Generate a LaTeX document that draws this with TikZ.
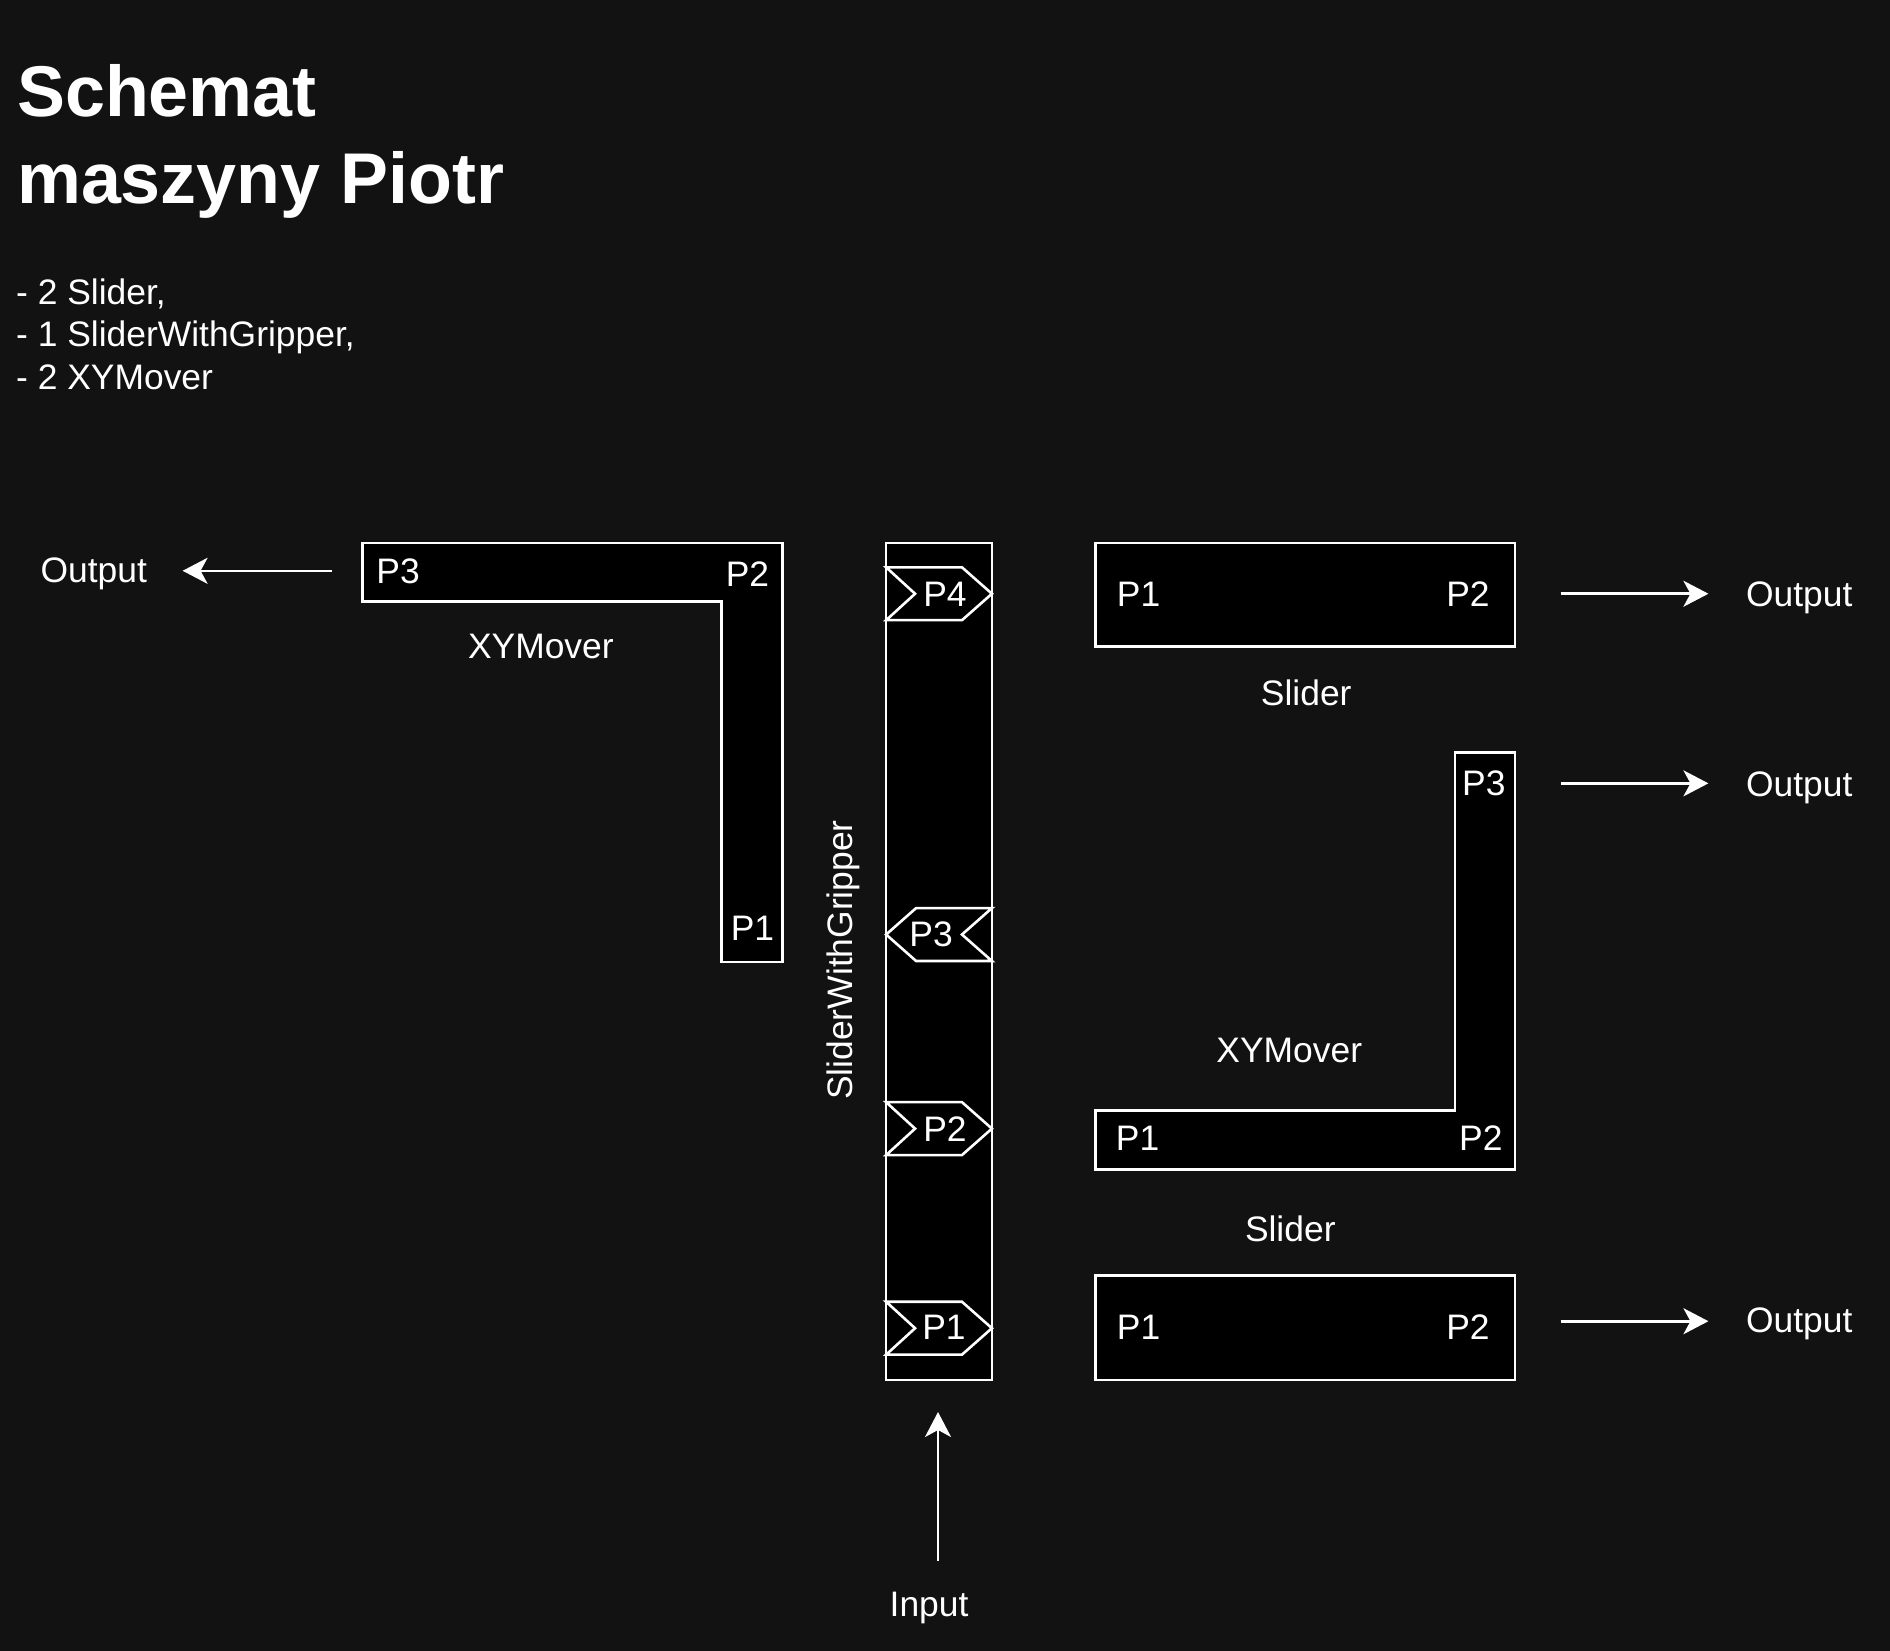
\documentclass[tikz,border=0pt]{standalone}
\usepackage{fontspec}
\setmainfont{Liberation Sans}
\usetikzlibrary{arrows.meta}
\definecolor{bg}{RGB}{18,18,18}
\tikzset{
  x=1pt,y=-1pt,
  wline/.style={draw=white,line width=2.6pt,fill=black,line join=miter},
  lbl/.style={text=white,inner sep=0pt,font=\fontsize{35.5pt}{42pt}\selectfont,text height=25.5pt,text depth=0pt},
  boxnode/.style={wline,rectangle,inner sep=0pt,outer sep=0pt,anchor=north west},
  arr/.style={draw=white,line width=2.6pt,-{Stealth[length=25pt,width=26pt,inset=7pt]}},
}
\begin{document}
\begin{tikzpicture}
\fill[bg] (-2,-2) rectangle (1892,1652);
\useasboundingbox (0,0) rectangle (1890,1650);

% title and list
\node[text=white,inner sep=0pt,anchor=base west,font=\fontsize{72pt}{86pt}\selectfont\bfseries] (t1) at (15,115) {Schemat};
\node[text=white,inner sep=0pt,anchor=base west,font=\fontsize{72pt}{86pt}\selectfont\bfseries] (t2) at (15,202) {maszyny Piotr};
\node[text=white,inner sep=0pt,anchor=base west,font=\fontsize{35.5pt}{42pt}\selectfont] (l1) at (14,303) {- 2 Slider,};
\node[text=white,inner sep=0pt,anchor=base west,font=\fontsize{35.5pt}{42pt}\selectfont] (l2) at (14,345) {- 1 SliderWithGripper,};
\node[text=white,inner sep=0pt,anchor=base west,font=\fontsize{35.5pt}{42pt}\selectfont] (l3) at (14,388) {- 2 XYMover};

% left XYMover (L shape)
\draw[wline] (361,542) -- (782,542) -- (782,962) -- (721,962) -- (721,601) -- (361,601) -- cycle;
\node[lbl] (xl3) at (397,570) {P3};
\node[lbl] (xl2) at (747,573) {P2};
\node[lbl] (xl1) at (752,928) {P1};
\node[lbl] (xlname) at (540,645) {XYMover};

% SliderWithGripper bar
\node[boxnode,minimum width=106pt,minimum height=839pt] (swg) at (886,542) {};
\node[lbl,rotate=90] (swgname) at (840,960) {SliderWithGripper};

% tags
\draw[wline] (886,566.5) -- (962,566.5) -- (992,593) -- (962,619.5) -- (886,619.5) -- (915,593) -- cycle;
\node[lbl] (g4) at (945,593) {P4};
\draw[wline] (886,934.5) -- (916,908) -- (992,908) -- (962,934.5) -- (992,961) -- (916,961) -- cycle;
\node[lbl] (g3) at (931,934) {P3};
\draw[wline] (886,1102.5) -- (962,1102.5) -- (992,1129) -- (962,1155.5) -- (886,1155.5) -- (915,1129) -- cycle;
\node[lbl] (g2) at (945,1129) {P2};
\draw[wline] (886,1302.5) -- (962,1302.5) -- (992,1329) -- (962,1355.5) -- (886,1355.5) -- (915,1329) -- cycle;
\node[lbl] (g1) at (944,1328) {P1};

% top slider
\node[boxnode,minimum width=420pt,minimum height=104pt] (s1) at (1096,542) {};
\node[lbl] (s1p1) at (1139,593) {P1};
\node[lbl] (s1p2) at (1469,593) {P2};
\node[lbl] (s1name) at (1307,692) {Slider};

% right XYMover (L shape)
\draw[wline] (1096,1111) -- (1456,1111) -- (1456,752) -- (1516,752) -- (1516,1170) -- (1096,1170) -- cycle;
\node[lbl] (xr3) at (1485,782) {P3};
\node[lbl] (xr1) at (1138,1138) {P1};
\node[lbl] (xr2) at (1482,1138) {P2};
\node[lbl] (xrname) at (1290,1050) {XYMover};

% bottom slider
\node[boxnode,minimum width=420pt,minimum height=105pt] (s2) at (1096,1276) {};
\node[lbl] (s2p1) at (1139,1328) {P1};
\node[lbl] (s2p2) at (1469,1328) {P2};
\node[lbl] (s2name) at (1291,1229) {Slider};

% outputs / input
\node[lbl] (o1) at (1801,593) {Output};
\node[lbl] (o2) at (1801,783) {Output};
\node[lbl] (o3) at (1801,1321) {Output};
\node[lbl] (o4) at (92,569) {Output};
\node[lbl] (inp) at (929,1605) {Input};

\coordinate (a1s) at (1562,593);  \coordinate (a1e) at (1710,593);
\coordinate (a2s) at (1562,783);  \coordinate (a2e) at (1710,783);
\coordinate (a3s) at (1562,1322); \coordinate (a3e) at (1710,1322);
\coordinate (a4s) at (331,570);   \coordinate (a4e) at (181,570);
\coordinate (a5s) at (938,1562);  \coordinate (a5e) at (938,1413);
\draw[arr] (a1s) -- (a1e);
\draw[arr] (a2s) -- (a2e);
\draw[arr] (a3s) -- (a3e);
\draw[arr] (a4s) -- (a4e);
\draw[arr] (a5s) -- (a5e);
\end{tikzpicture}
\end{document}
